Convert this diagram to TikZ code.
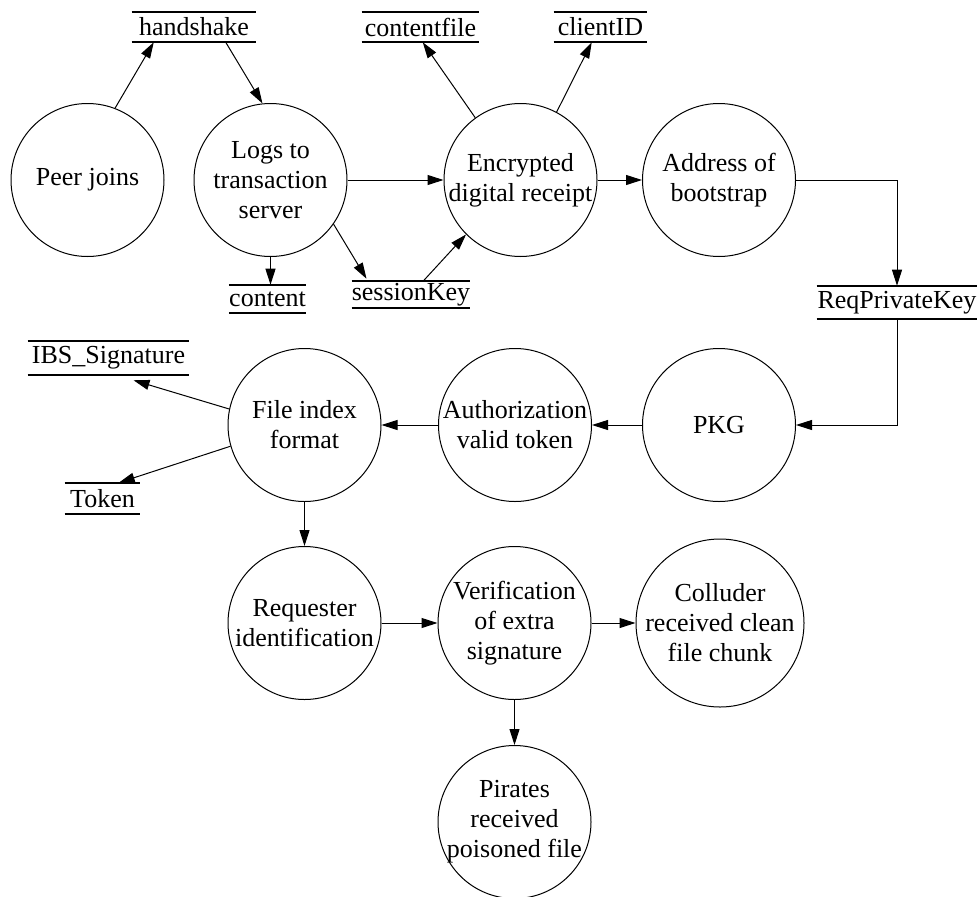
\documentclass[tikz,border=0pt]{standalone}
\usepackage{fontspec}
\setmainfont{Liberation Serif}
\usetikzlibrary{arrows.meta,calc}

\begin{document}
\begin{tikzpicture}[x=0.75pt,y=-0.75pt,
  font=\fontsize{19.5}{22.5}\selectfont,
  proc/.style={circle,draw,line width=0.75pt,inner sep=0pt,minimum size=114.75pt},
  txt/.style={align=center,inner sep=0pt},
  store/.style={inner sep=0pt},
  storeline/.style={line width=1.6pt},
  flow/.style={line width=0.75pt,-{Triangle[length=12pt,width=7.5pt]}}]

\useasboundingbox (0,0) rectangle (977,896);

% processes
\node[proc,label={[txt]center:Peer joins}] (peer) at (87.5,180) {};
\node[proc,label={[txt]center:Logs to\\transaction\\server}] (logs) at (270.5,180) {};
\node[proc,label={[txt]center:Encrypted\\digital receipt}] (enc) at (520.5,180) {};
\node[proc,label={[txt]center:Address of\\bootstrap}] (addr) at (719,180) {};
\node[proc,label={[txt]center:PKG}] (pkg) at (719,425) {};
\node[proc,label={[txt]center:Authorization\\valid token}] (auth) at (515,425) {};
\node[proc,label={[txt]center:File index\\format}] (fidx) at (304.5,425) {};
\node[proc,label={[txt]center:Requester\\identification}] (req) at (304.5,623) {};
\node[proc,label={[txt]center:Verification\\of extra\\signature}] (ver) at (514.5,623) {};
\node[proc,minimum size=126pt,label={[txt]center:Colluder\\received clean\\file chunk}] (coll) at (720,623) {};
\node[proc,label={[txt]center:Pirates\\received\\poisoned file}] (pir) at (514.5,822) {};

% data stores
\node[store,minimum width=93pt,minimum height=22.5pt] (hs) at (194,27) {handshake};
\node[store,minimum width=56.25pt,minimum height=21pt] (ct) at (267.5,299) {content};
\node[store,minimum width=88.5pt,minimum height=20.25pt] (sk) at (411,294.5) {sessionKey};
\node[store,minimum width=87.75pt,minimum height=22.5pt] (cf) at (420.5,27) {contentfile};
\node[store,minimum width=69.75pt,minimum height=22.5pt] (cid) at (600.5,27) {clientID};
\node[store,minimum width=120pt,minimum height=24.75pt] (rpk) at (897,302.5) {ReqPrivateKey};
\node[store,minimum width=120.75pt,minimum height=25.5pt] (ibs) at (108.5,358) {IBS\_Signature};
\node[store,minimum width=56.25pt,minimum height=23.25pt] (tok) at (102.5,498.5) {Token};

\foreach \s in {hs,ct,sk,cf,cid,rpk,ibs,tok}
  \draw[storeline] (\s.north west) -- (\s.north east)
                   (\s.south west) -- (\s.south east);

% flows
\draw[flow] (peer.69) -- ($(hs.south west)+(22,0)$);
\draw[flow] ($(hs.south west)+(94,0)$) -- (logs.96);
\draw[flow] (logs.south) -- (logs.south |- ct.north);
\draw[flow] (logs.-35) -- ($(sk.north west)+(15,-2)$);
\draw[flow] ($(sk.north west)+(72,0)$) -- (enc.225);
\draw[flow] (logs.east) -- (enc.west);
\draw[flow] (enc.126) -- ($(cf.south west)+(61,0)$);
\draw[flow] (enc.62) -- ($(cid.south west)+(38,0)$);
\draw[flow] (enc.east) -- (addr.west);
\draw[flow] (addr.east) -| (rpk.north);
\draw[flow] (rpk.south) |- (pkg.east);
\draw[flow] (pkg.west) -- (auth.east);
\draw[flow] (auth.west) -- (fidx.east);
\draw[flow] (fidx.168) -- ($(ibs.south)+(25,5)$);
\draw[flow] (fidx.196) -- ($(tok.north west)+(54,0)$);
\draw[flow] (fidx.south) -- (req.north);
\draw[flow] (req.east) -- (ver.west);
\draw[flow] (ver.east) -- (coll.west);
\draw[flow] (ver.south) -- (pir.north);
\end{tikzpicture}
\end{document}
